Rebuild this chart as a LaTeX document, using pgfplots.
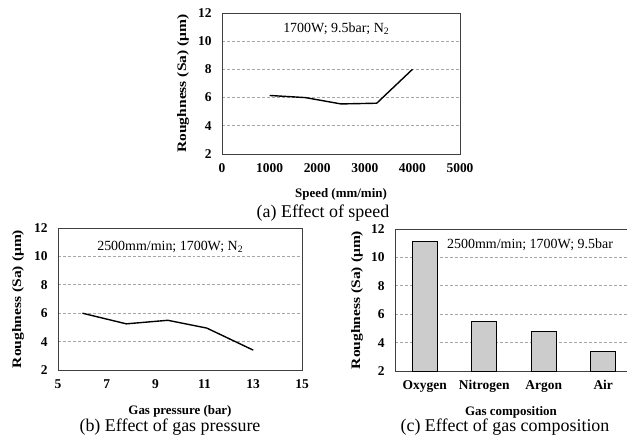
\documentclass[border=0pt]{standalone}
\usepackage{fontspec}
\setmainfont{Liberation Serif}
\usepackage{graphicx}
\usepackage{pgfplots}
\pgfplotsset{compat=1.18}

\pgfplotsset{
  panel/.style={
    scale only axis,
    anchor=south west,
    ymin=2, ymax=12,
    ytick={2,4,...,12},
    ymajorgrids,
    major grid style={densely dashed, gray!70, line width=0.6pt},
    axis line style={black!75, line width=0.8pt},
    major tick length=0pt,
    tick label style={font=\bfseries\fontsize{13.5}{13.5}\selectfont},
    xticklabel style={yshift=-6bp},
    yticklabel style={xshift=-7bp},
    /pgf/number format/assume math mode=true,
    /pgf/number format/1000 sep={},
    label style={font=\bfseries\fontsize{13}{13}\selectfont},
    xlabel style={at={(axis description cs:0.5,-0.29)}, anchor=center},
    ylabel={\scalebox{1.2}[1]{Roughness (Sa) (μm)}},
    ylabel style={at={(axis description cs:-0.164,0.5)}, anchor=center},
    clip=false,
  },
}
\tikzset{
  note/.style={font=\fontsize{14}{14}\selectfont},
  figcap/.style={font=\fontsize{18}{18}\selectfont},
}

\begin{document}
\begin{tikzpicture}[x=1bp,y=1bp]
\useasboundingbox (0,0) rectangle (627,441);

% (a) speed
\begin{axis}[panel, at={(222bp,287bp)}, width=238bp, height=141bp,
  xmin=0, xmax=5000, xtick={0,1000,...,5000},
  xlabel={Speed (mm/min)}]
  \addplot[black, line width=1.4pt] coordinates {
    (1000,6.15) (1750,6.0) (2500,5.55) (3250,5.6) (4000,8.0)
  };
  \node[note] at (axis cs:2400,10.9) {1700W; 9.5bar; N\textsubscript{2}};
\end{axis}
\node[figcap] at (323,228) {(a) Effect of speed};

% (b) gas pressure
\begin{axis}[panel, at={(58bp,71bp)}, width=244bp, height=142bp,
  xmin=5, xmax=15, xtick={5,7,...,15},
  xlabel={Gas pressure (bar)}]
  \addplot[black, line width=1.4pt] coordinates {
    (6,6.0) (7.8,5.25) (9.5,5.5) (11.1,4.95) (13,3.4)
  };
  \node[note] at (axis cs:9.6,10.7) {2500mm/min; 1700W; N\textsubscript{2}};
\end{axis}
\node[figcap] at (170,14) {(b) Effect of gas pressure};

% (c) gas composition
\begin{axis}[panel, at={(395bp,70bp)}, width=232bp, height=142bp,
  xmin=-0.5, xmax=3.4, xtick=data,
  xticklabels={Oxygen,Nitrogen,Argon,Air},
  xlabel={Gas composition}]
  \addplot[ybar, bar width=25bp, fill=gray!40, draw=black, line width=0.9pt] coordinates {
    (0,11.1) (1,5.5) (2,4.75) (3,3.35)
  };
  \node[note] at (axis cs:1.77,10.9) {2500mm/min; 1700W; 9.5bar};
\end{axis}
\node[figcap] at (505,14) {(c) Effect of gas composition};
\end{tikzpicture}
\end{document}
